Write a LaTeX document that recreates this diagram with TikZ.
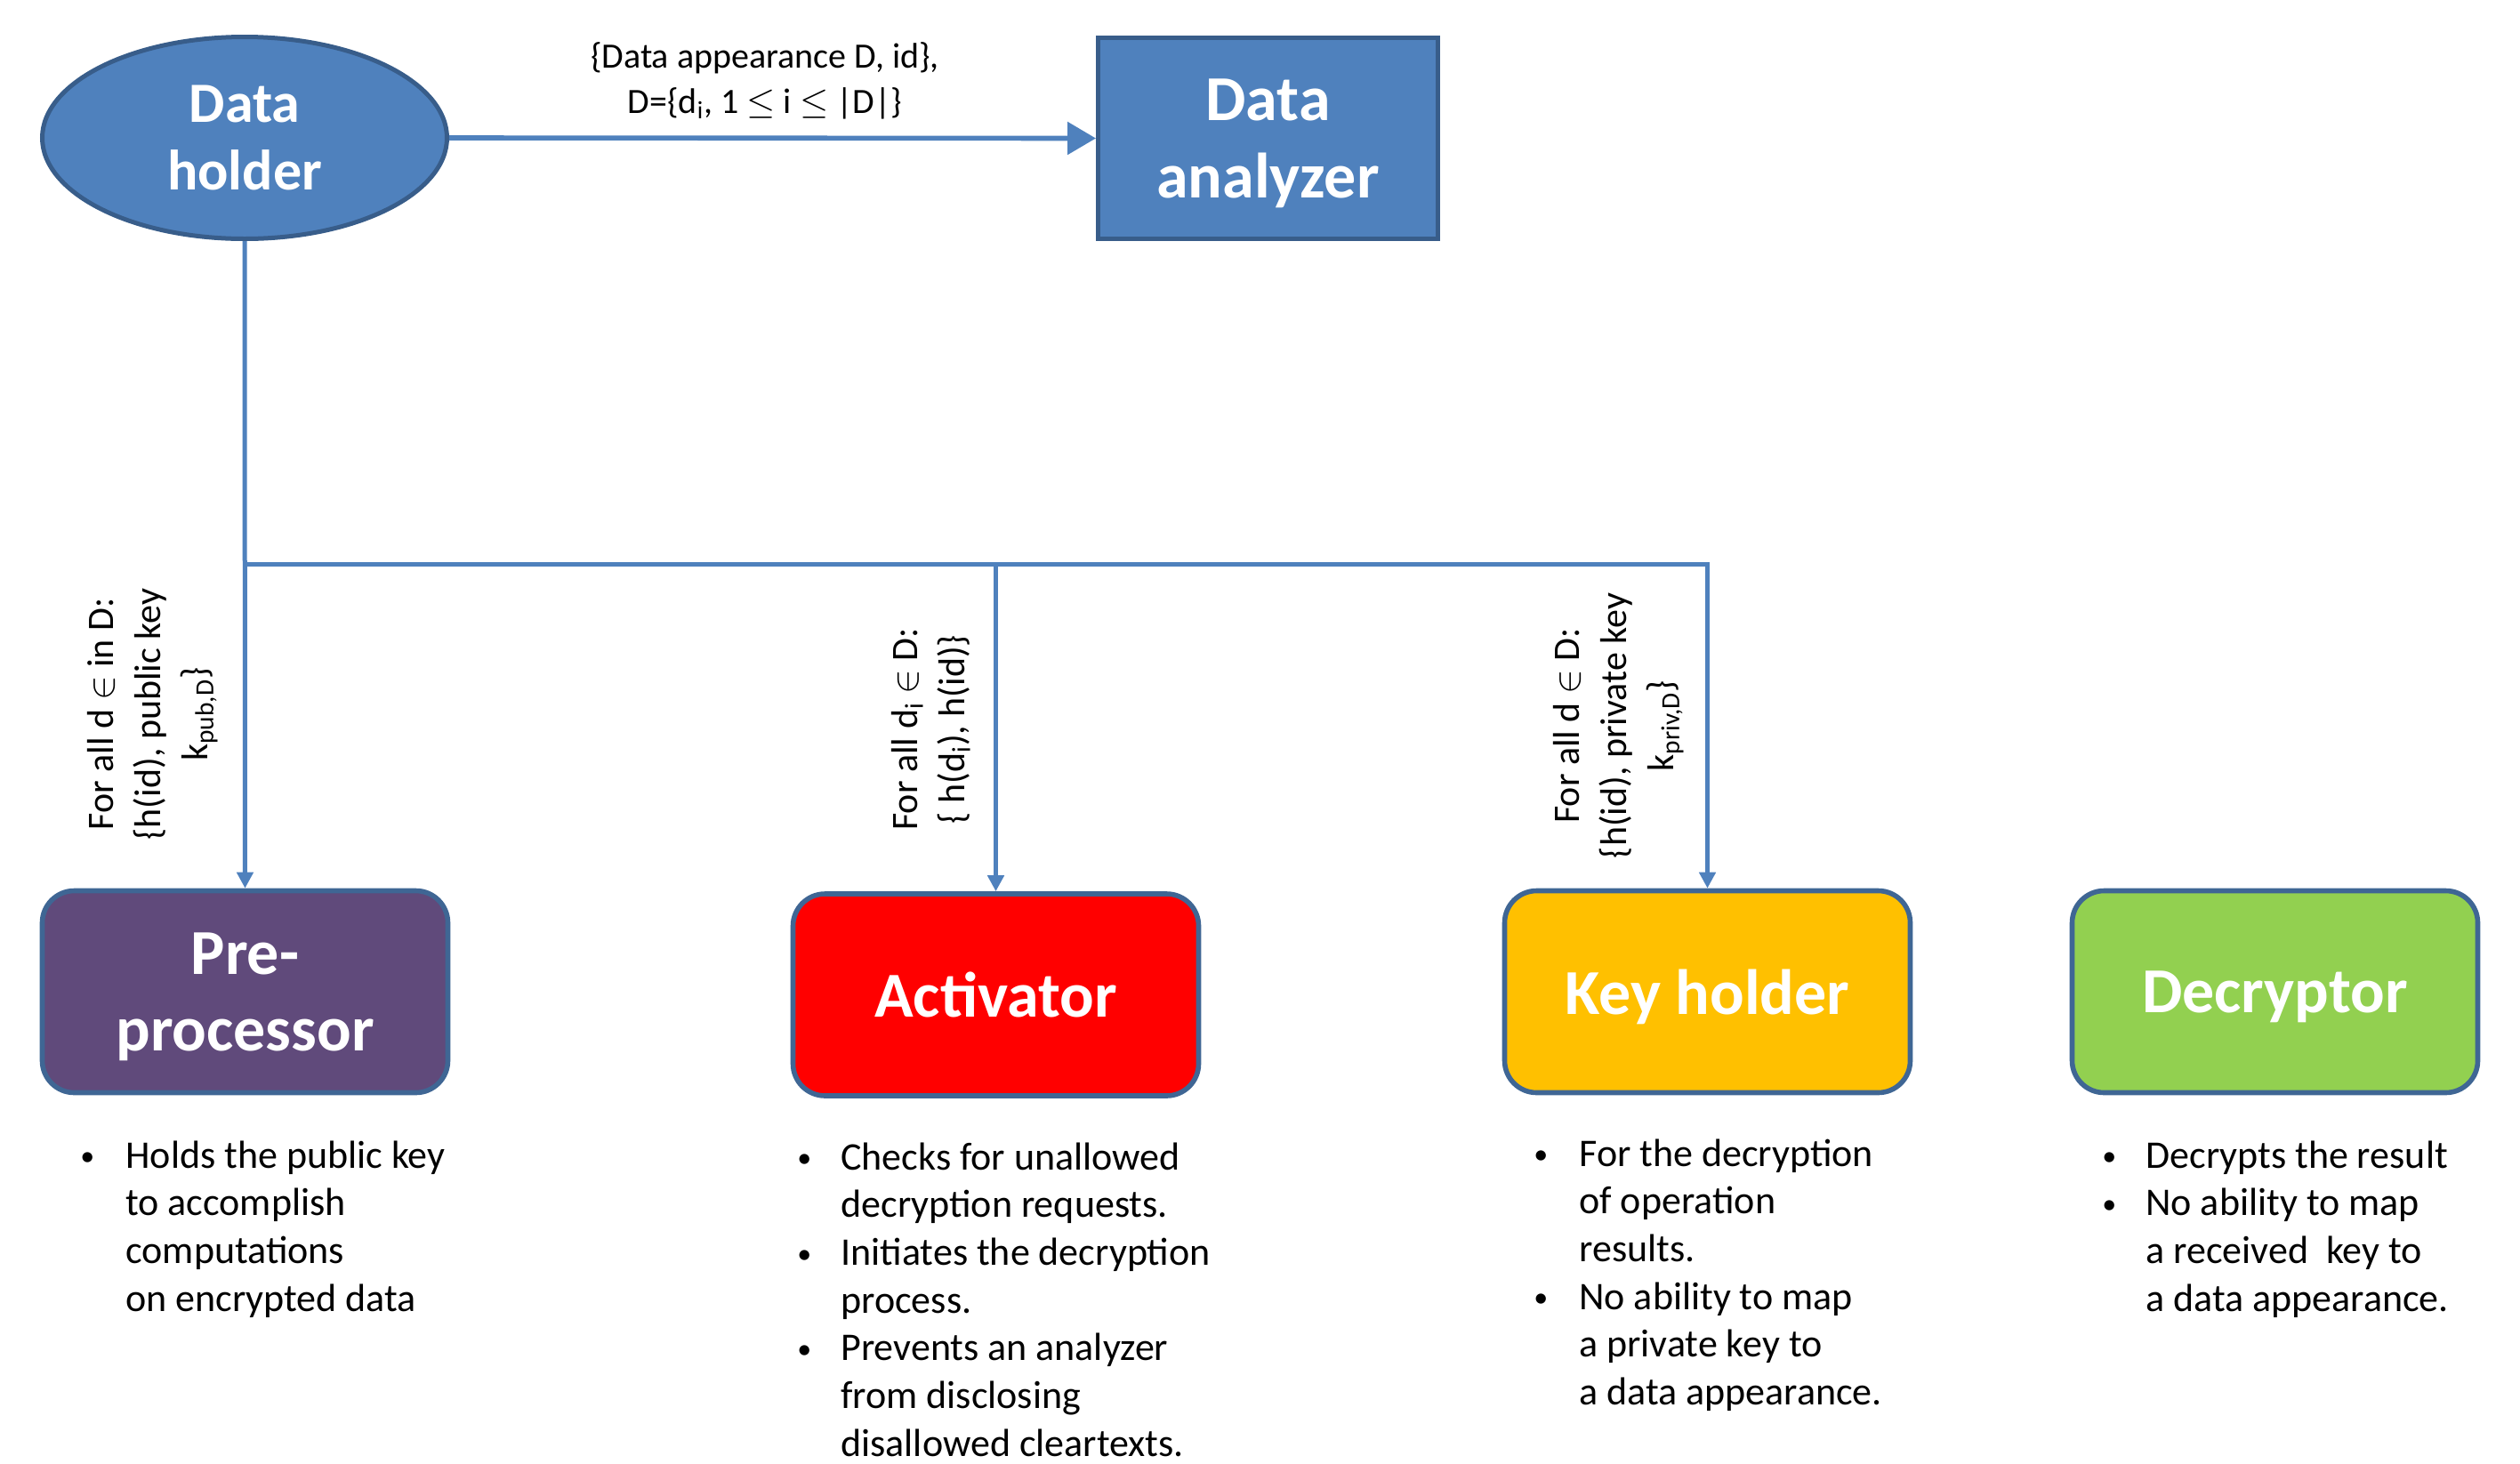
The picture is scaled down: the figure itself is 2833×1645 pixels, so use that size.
\documentclass[tikz,border=0pt]{standalone}
\usepackage{fontspec}
\setmainfont{Carlito}
\usetikzlibrary{arrows.meta,shapes.geometric}
\definecolor{lineblue}{HTML}{4F81BD}
\definecolor{darkblue}{HTML}{385D8A}
\definecolor{boxborder}{HTML}{3F6694}
\definecolor{purp}{HTML}{604A7B}
\definecolor{actred}{HTML}{FF0000}
\definecolor{keyyel}{HTML}{FFC000}
\definecolor{decgreen}{HTML}{92D050}
\newcommand{\blt}{\raisebox{1.2pt}{\fontsize{16}{16}\selectfont\textbullet}}
\begin{document}
\begin{tikzpicture}[x=0.5pt,y=-0.5pt,
  actor/.style={draw=boxborder, line width=2.8pt, rounded corners=18pt,
    minimum width=228pt, minimum height=113.5pt, inner sep=0pt,
    text depth=0pt,
    text=white, align=center, font=\fontsize{36}{43}\selectfont\bfseries},
  bigarrow/.style={draw=lineblue, line width=2.8pt,
    -{Triangle[length=16pt,width=18pt]}},
  treeline/.style={draw=lineblue, line width=2.5pt},
  treearrow/.style={treeline, -{Triangle[length=9pt,width=9pt]}},
  flowlabel/.style={rotate=90, anchor=south, inner sep=0pt, align=center,
    font=\fontsize{21}{26.5}\selectfont},
  bullets/.style={anchor=base west, inner sep=0pt,
    font=\fontsize{22}{26.85}\selectfont}
]
\useasboundingbox (0,0) rectangle (2833,1645);

% top nodes
\node[ellipse, fill=lineblue, draw=darkblue, line width=2.5pt,
  minimum width=227.5pt, minimum height=113.5pt, inner sep=0pt,
  text=white, align=center, font=\fontsize{32}{38}\selectfont\bfseries]
  (dh) at (275,155) {Data\\holder};
\node[rectangle, fill=lineblue, draw=darkblue, line width=2.5pt,
  minimum width=191pt, minimum height=113pt, inner sep=0pt, text depth=0pt,
  text=white, align=center, font=\fontsize{36}{43.5}\selectfont\bfseries]
  (da) at (1425.5,155.5) {Data\\analyzer};

% bottom actors
\node[actor, fill=purp]     (pre) at (275.5,1115)   {Pre-\\processor};
\node[actor, fill=actred]   (act) at (1119.5,1118.5) {Activator};
\node[actor, fill=keyyel]   (key) at (1919.5,1115)  {Key holder};
\node[actor, fill=decgreen] (dec) at (2557.5,1115)  {Decryptor};

% top arrow and its label
\draw[bigarrow] (dh.east) -- (da.west);
\node[inner sep=0pt, align=center, font=\fontsize{20}{25.3}\selectfont]
  (toplab) at (860,91)
  {\{Data appearance D, id\},\\D=\{d\textsubscript{i}, 1 $\leq$ i $\leq$ |D|\}};

% tree
\coordinate (j1) at (275,634);
\coordinate (j2) at (act.north |- j1);
\draw[treearrow] (dh.south) -- (pre.north);
\draw[treeline] (j1) -- (j2);
\draw[treearrow] (j2) -| (key.north);
\draw[treearrow] (j2) -- (act.north);

% flow labels
\node[flowlabel] (lab1) at (245,803)
  {For all d $\in$ in D:\\\{h(id), public key\\k\textsubscript{pub,D}\}};
\node[flowlabel] (lab2) at (1091,820)
  {For all d\textsubscript{i} $\in$ D:\\\{ h(d\textsubscript{i}), h(id)\}};
\node[flowlabel] (lab3) at (1893,816)
  {For all d $\in$ D:\\\{h(id), private key\\k\textsubscript{priv,D}\}};

% bullet lists
\node[bullets] (prelist) at (90,1313)
  {\begin{tabular}[t]{@{}p{25.5pt}@{}l@{}}
   \blt & Holds the public key\\
   & to accomplish\\
   & computations\\
   & on encrypted data
   \end{tabular}};
\node[bullets] (actlist) at (896,1315)
  {\begin{tabular}[t]{@{}p{24.5pt}@{}l@{}}
   \blt & Checks for unallowed\\
   & decryption requests.\\
   \blt & Initiates the decryption\\
   & process.\\
   \blt & Prevents an analyzer\\
   & from disclosing\\
   & disallowed cleartexts.
   \end{tabular}};
\node[bullets] (keylist) at (1724,1311)
  {\begin{tabular}[t]{@{}p{25.5pt}@{}l@{}}
   \blt & For the decryption\\
   & of operation\\
   & results.\\
   \blt & No ability to map\\
   & a private key to\\
   & a data appearance.
   \end{tabular}};
\node[bullets] (declist) at (2363,1313)
  {\begin{tabular}[t]{@{}p{24.5pt}@{}l@{}}
   \blt & Decrypts the result\\
   \blt & No ability to map\\
   & a received~ key to\\
   & a data appearance.
   \end{tabular}};
\end{tikzpicture}
\end{document}
